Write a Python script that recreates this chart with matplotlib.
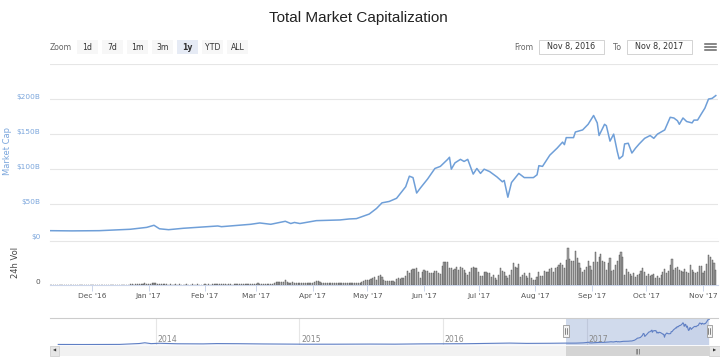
import datetime
import numpy as np
import matplotlib
matplotlib.use('Agg')
import matplotlib.pyplot as plt
import matplotlib.dates as mdates
from matplotlib.patches import Rectangle
from matplotlib.lines import Line2D
from matplotlib.transforms import ScaledTranslation

# total market cap, $B
cap_dates = [
    '2016-11-08', '2016-11-20', '2016-12-05', '2016-12-22', '2016-12-31', '2017-01-04',
    '2017-01-07', '2017-01-12', '2017-01-20', '2017-02-08', '2017-02-10', '2017-02-26',
    '2017-03-03', '2017-03-09', '2017-03-17', '2017-03-20', '2017-03-22', '2017-03-25',
    '2017-04-03', '2017-04-16', '2017-04-21', '2017-04-25', '2017-05-02', '2017-05-06',
    '2017-05-09', '2017-05-13', '2017-05-17', '2017-05-22', '2017-05-24', '2017-05-26',
    '2017-05-28', '2017-05-30', '2017-06-03', '2017-06-07', '2017-06-10', '2017-06-14',
    '2017-06-15', '2017-06-16', '2017-06-18', '2017-06-21', '2017-06-23', '2017-06-25',
    '2017-06-28', '2017-06-30', '2017-07-02', '2017-07-04', '2017-07-07', '2017-07-11',
    '2017-07-14', '2017-07-15', '2017-07-17', '2017-07-19', '2017-07-23', '2017-07-26',
    '2017-07-31', '2017-08-02', '2017-08-03', '2017-08-05', '2017-08-09', '2017-08-13',
    '2017-08-16', '2017-08-17', '2017-08-18', '2017-08-22', '2017-08-23', '2017-08-27',
    '2017-08-30', '2017-09-02', '2017-09-04', '2017-09-05', '2017-09-07', '2017-09-08',
    '2017-09-09', '2017-09-11', '2017-09-13', '2017-09-15', '2017-09-16', '2017-09-18',
    '2017-09-19', '2017-09-21', '2017-09-23', '2017-09-25', '2017-09-27', '2017-09-30',
    '2017-10-03', '2017-10-05', '2017-10-07', '2017-10-11', '2017-10-14', '2017-10-16',
    '2017-10-18', '2017-10-19', '2017-10-21', '2017-10-23', '2017-10-26', '2017-10-27',
    '2017-10-29', '2017-10-31', '2017-11-02', '2017-11-04', '2017-11-06', '2017-11-08',
]
cap_values = [
    12.3, 12.0, 12.3, 14.3, 17.0, 20.0,
    15.0, 13.7, 15.7, 19.0, 18.0, 21.4,
    23.3, 21.4, 25.7, 22.5, 24.0, 22.5,
    26.6, 27.6, 29.0, 29.5, 36.0, 44.0,
    52.0, 54.0, 58.5, 75.0, 90.0, 88.0,
    66.0, 73.0, 86.0, 101.0, 104.0, 114.0,
    117.0, 100.0, 109.0, 114.0, 111.0, 114.0,
    93.0, 101.0, 94.0, 100.0, 96.6, 89.0,
    82.0, 84.0, 60.0, 81.0, 94.0, 88.0,
    88.0, 92.0, 105.0, 104.0, 120.0, 130.0,
    138.6, 135.0, 145.0, 145.0, 153.0, 156.0,
    164.0, 176.6, 166.0, 148.0, 158.6, 164.0,
    162.0, 140.0, 150.0, 125.0, 114.7, 119.0,
    136.0, 137.0, 123.0, 130.0, 136.0, 144.0,
    148.0, 144.0, 150.0, 156.0, 174.0, 173.0,
    169.0, 164.0, 173.0, 168.0, 166.0, 170.0,
    170.0, 178.6, 187.0, 200.0, 201.0, 205.0,
]

# 24h volume, $B, one bar per day starting Nov 8 2016
vol_start = '2016-11-08'
vol_values = [
    # Nov 8 - Dec 20
    0.08, 0.07, 0.08, 0.09, 0.07, 0.08, 0.08, 0.07, 0.09, 0.08,
    0.08, 0.07, 0.08, 0.09, 0.08, 0.07, 0.08, 0.08, 0.09, 0.08,
    0.07, 0.08, 0.09, 0.08, 0.08, 0.07, 0.08, 0.09, 0.08, 0.08,
    0.07, 0.09, 0.08, 0.08, 0.07, 0.08, 0.09, 0.08, 0.08, 0.09,
    0.1, 0.09, 0.1,
    # Dec 21 - Jan 10
    0.1, 0.3, 0.13, 0.1, 0.13, 0.15, 0.13, 0.15, 0.2, 0.38,
    0.2, 0.18, 0.33, 0.4, 0.5, 0.45, 0.35, 0.25, 0.2, 0.18, 0.15,
    # Jan 11 - Feb 26
    0.13, 0.12, 0.14, 0.12, 0.11, 0.13, 0.12, 0.14, 0.12, 0.11,
    0.12, 0.13, 0.11, 0.12, 0.14, 0.12, 0.11, 0.13, 0.12, 0.12,
    0.11, 0.13, 0.12, 0.14, 0.12, 0.13, 0.15, 0.13, 0.14, 0.18,
    0.33, 0.16, 0.13, 0.12, 0.14, 0.13, 0.12, 0.13, 0.15, 0.14,
    0.13, 0.15, 0.14, 0.16, 0.18, 0.3, 0.2,
    # Feb 27 - Mar 10
    0.22, 0.25, 0.3, 0.38, 0.28, 0.3, 0.25, 0.27, 0.3, 0.32, 0.28, 0.35,
    # Mar 11 - Mar 21
    0.43, 0.68, 0.83, 0.68, 0.83, 0.68, 1.25, 0.83, 0.58, 0.58, 0.68,
    # Mar 22 - Apr 12
    0.5, 0.55, 0.45, 0.6, 0.5, 0.55, 0.48, 0.6, 0.52, 0.5, 0.62, 0.7,
    1.08, 1.0, 0.7, 0.6, 0.55, 0.5, 0.45, 0.5, 0.48, 0.52,
    # Apr 13 - Apr 27
    0.45, 0.4, 0.42, 0.38, 0.45, 0.4, 0.43, 0.38, 0.42, 0.45, 0.48, 0.42, 0.5, 0.55, 0.6,
    # Apr 28 - May 12
    0.83, 1.0, 1.18, 1.25, 1.25, 1.5, 1.68, 2.08, 1.25, 2.33, 2.5, 2.08, 1.25, 1.0, 1.0,
    # May 13 onwards
    1.0, 1.0, 1.0, 0.75, 1.5, 1.75, 1.5, 1.75, 1.75, 2.25,
    3.5, 3.0, 3.75, 4.0, 4.0, 4.25, 3.25, 1.75, 3.25, 3.75,
    3.5, 3.5, 3.0, 3.0, 3.0, 3.5, 3.5, 3.0, 2.75, 4.75,
    5.75, 5.75, 5.75, 4.25, 4.25, 3.75, 4.0, 4.5, 3.75, 4.5,
    4.25, 3.75, 3.0, 2.5, 3.25, 4.25, 4.5, 4.25, 4.25, 3.25,
    2.25, 2.25, 3.25, 3.25, 3.0, 3.0, 2.0, 2.5, 1.75, 1.25,
    2.5, 4.25, 3.5, 3.25, 2.25, 1.75, 2.5, 3.75, 5.5, 4.5,
    4.25, 5.25, 2.0, 2.5, 3.0, 2.25, 1.75, 3.0, 1.75, 1.25,
    1.25, 2.0, 3.25, 2.25, 2.25, 3.5, 3.25, 3.25, 4.0, 4.25,
    3.25, 4.25, 4.5, 5.0, 5.5, 5.0, 4.25, 6.25, 9.25, 6.5,
    6.0, 6.0, 8.5, 6.75, 5.5, 4.25, 3.25, 3.75, 4.5, 6.0,
    4.75, 3.75, 5.75, 8.25, 5.75, 7.0, 7.75, 6.0, 5.75, 3.75,
    5.5, 6.75, 3.5, 3.75, 5.0, 6.0, 7.5, 8.25, 7.0, 2.5,
    4.0, 3.25, 2.75, 2.25, 3.0, 2.0, 2.5, 2.75, 3.5, 4.25,
    3.25, 2.25, 2.75, 2.25, 2.5, 2.75, 1.75, 2.25, 1.75, 2.5,
    3.25, 4.0, 3.0, 3.5, 5.0, 6.5, 3.75, 4.25, 4.5, 3.75,
    3.5, 3.25, 4.0, 3.25, 3.0, 5.0, 3.75, 3.25, 3.0, 3.25,
    4.75, 4.75, 3.0, 3.5, 5.25, 7.5, 7.0, 6.25, 5.5, 3.75,
]

# navigator: market cap history before the zoomed year, $B
hist_dates = [
    '2013-04-28', '2013-07-01', '2013-10-01', '2013-11-20', '2013-12-04', '2013-12-20',
    '2014-01-10', '2014-02-25', '2014-05-01', '2014-06-05', '2014-08-01', '2014-10-01',
    '2015-01-15', '2015-04-01', '2015-07-01', '2015-09-01', '2015-11-05', '2016-01-01',
    '2016-03-01', '2016-06-18', '2016-08-01', '2016-10-01',
]
hist_values = [
    1.5, 1.0, 1.8, 9.0, 15.0, 8.0,
    11.0, 7.0, 6.0, 8.5, 7.5, 5.5,
    3.5, 3.5, 4.5, 3.8, 6.0, 6.8,
    7.5, 12.5, 10.0, 11.0,
]

y_ticks = [0, 50, 100, 150, 200, 250]
y_labels = ['$0', '$50B', '$100B', '$150B', '$200B', '']
zoom_buttons = ['1d', '7d', '1m', '3m', '1y', 'YTD', 'ALL']
selected_button = '1y'
range_from = 'Nov 8, 2016'
range_to = 'Nov 8, 2017'
nav_years = [2014, 2015, 2016, 2017]
nav_span = ('2013-04-07', '2017-11-30')

BLUE = '#6f9fd8'
LABEL_BLUE = '#7ba6dc'
GRID = '#e6e6e6'

plt.rcParams['font.family'] = ['DejaVu Sans']

W, H = 720, 357
fig = plt.figure(figsize=(W / 100, H / 100), dpi=100)


def px_box(left, top, right, bottom):
    # pixel box (from top-left) -> figure fractions
    return [left / W, 1 - bottom / H, (right - left) / W, (bottom - top) / H]


def px_rect(left, top, right, bottom, **kw):
    r = Rectangle((left / W, 1 - bottom / H), (right - left) / W, (bottom - top) / H,
                  transform=fig.transFigure, **kw)
    fig.add_artist(r)


def px_text(x, y, s, **kw):
    fig.text(x / W, 1 - y / H, s, **kw)


def to_num(dates):
    return mdates.date2num([datetime.date.fromisoformat(d) for d in dates])


cap_x = to_num(cap_dates)
d0 = to_num([vol_start])[0]
x_range = (d0, d0 + 366.2)

# --- header ---
px_text(358, 18, 'Total Market Capitalization', ha='center', va='center',
        fontsize=11, color='#222222', family='Liberation Sans')

px_text(50, 47, 'Zoom', ha='left', va='center', fontsize=5.6, color='#666666')
for i, lab in enumerate(zoom_buttons):
    left = 77 + 25 * i
    sel = lab == selected_button
    px_rect(left, 40, left + 21, 54, facecolor='#e6ebf5' if sel else '#f7f7f7', edgecolor='none')
    px_text(left + 10.5, 47, lab, ha='center', va='center', fontsize=5.6, color='#333333',
            fontweight='bold' if sel else 'normal')

px_text(524, 47, 'From', ha='center', va='center', fontsize=5.6, color='#666666')
px_rect(539, 40, 604, 54, facecolor='white', edgecolor='#cccccc', linewidth=0.6)
px_text(571.5, 47, range_from, ha='center', va='center', fontsize=5.8, color='#333333')
px_text(617, 47, 'To', ha='center', va='center', fontsize=5.6, color='#666666')
px_rect(627, 40, 692, 54, facecolor='white', edgecolor='#cccccc', linewidth=0.6)
px_text(659.5, 47, range_to, ha='center', va='center', fontsize=5.8, color='#333333')
for yy in (43.5, 46.8, 50.1):
    fig.add_artist(Line2D([705 / W, 716 / W], [1 - yy / H, 1 - yy / H], color='#666666',
                          linewidth=1.1, transform=fig.transFigure))

# --- market cap panel ---
ax = fig.add_axes(px_box(50, 64, 718, 239.3))
ax.plot(cap_x, cap_values, color=BLUE, linewidth=1.1)
ax.set_xlim(x_range)
ax.set_ylim(0, 250)
ax.set_yticks(y_ticks, y_labels)
ax.grid(axis='y', color=GRID, linewidth=0.8)
ax.set_axisbelow(True)
for s in ax.spines.values():
    s.set_visible(False)
ax.tick_params(axis='x', bottom=False, labelbottom=False)
ax.tick_params(axis='y', length=0, pad=7, labelsize=5.3, labelcolor=LABEL_BLUE)
up3 = ScaledTranslation(0, 3 / 100, fig.dpi_scale_trans)
for lab in ax.get_yticklabels():
    lab.set_transform(lab.get_transform() + up3)
px_text(8, 151, 'Market Cap', rotation=90, ha='center', va='center', fontsize=6, color=LABEL_BLUE)

# --- volume panel ---
axv = fig.add_axes(px_box(50, 240.5, 718, 285))
vol_x = d0 + np.arange(len(vol_values))
axv.bar(vol_x, vol_values, width=0.62, color='#a3a3a3', edgecolor='#4d4d4d', linewidth=0.3)
axv.set_xlim(x_range)
axv.set_ylim(0, 11.1)
axv.set_yticks([0], ['0'])
axv.xaxis.set_major_locator(mdates.MonthLocator())
axv.xaxis.set_major_formatter(mdates.DateFormatter("%b '%y"))
axv.tick_params(axis='x', length=4.5, width=0.7, color='#ccd6eb', pad=1,
                labelsize=5.4, labelcolor='#555555')
axv.tick_params(axis='y', length=0, pad=7, labelsize=5.3, labelcolor='#555555')
up4 = ScaledTranslation(0, 4 / 100, fig.dpi_scale_trans)
for lab in axv.get_yticklabels():
    lab.set_transform(lab.get_transform() + up4)
axv.spines['left'].set_visible(False)
axv.spines['right'].set_visible(False)
axv.spines['top'].set_color(GRID)
axv.spines['top'].set_linewidth(0.8)
axv.spines['bottom'].set_color('#ccd6eb')
axv.spines['bottom'].set_linewidth(0.8)
px_text(16, 262, '24h Vol', rotation=90, ha='center', va='center', fontsize=6, color='#444444')

# --- navigator ---
nav_x = np.concatenate([to_num(hist_dates), cap_x])
nav_vals = hist_values + cap_values
span = to_num(list(nav_span))
sel = (cap_x[0], cap_x[-1])

axn = fig.add_axes(px_box(50, 318, 718, 345))
axn.fill_between(nav_x, nav_vals, -3, color=(51 / 255, 92 / 255, 173 / 255, 0.06), linewidth=0)
axn.plot(nav_x, nav_vals, color='#5f7fc4', linewidth=0.8)
axn.set_xlim(span)
axn.set_ylim(-3, 215)
year_x = to_num(['%d-01-01' % y for y in nav_years])
axn.set_xticks(year_x)
axn.set_yticks([])
axn.tick_params(axis='x', length=0, labelbottom=False)
axn.grid(axis='x', color=GRID, linewidth=0.8)
axn.set_axisbelow(True)
for y, xx in zip(nav_years, year_x):
    axn.text(xx + 4, 0.2, str(y), transform=axn.get_xaxis_transform(), ha='left', va='center',
             fontsize=5.6, color='#888888')
for k in ('left', 'right', 'bottom'):
    axn.spines[k].set_visible(False)
axn.spines['top'].set_color('#cccccc')
axn.spines['top'].set_linewidth(0.8)
axn.axvspan(sel[0], sel[1], color=(102 / 255, 133 / 255, 194 / 255, 0.3), linewidth=0)
for hx in sel:
    axn.add_patch(Rectangle((hx - 7, 0.3), 14, 0.45, transform=axn.get_xaxis_transform(),
                            facecolor='#f2f2f2', edgecolor='#999999', linewidth=0.6,
                            clip_on=False, zorder=5))
    for dx in (-2.5, 2.5):
        axn.plot([hx + dx, hx + dx], [0.42, 0.63], transform=axn.get_xaxis_transform(),
                 color='#333333', linewidth=0.4, clip_on=False, zorder=6)

# --- scrollbar ---
axs = fig.add_axes(px_box(50, 345.5, 718, 356))
axs.set_facecolor('#f2f2f2')
axs.set_xlim(span)
axs.set_ylim(0, 1)
axs.axvspan(sel[0], sel[1], color='#d4d4d4', linewidth=0)
axs.text((sel[0] + sel[1]) / 2, 0.5, '|||', ha='center', va='center', fontsize=3.5, color='#333333')
axs.set_xticks([])
axs.set_yticks([])
for s in axs.spines.values():
    s.set_visible(False)
px_rect(50, 345.5, 59, 356, facecolor='#e6e6e6', edgecolor='#cccccc', linewidth=0.5)
px_text(54.5, 350.8, '\u25C0', ha='center', va='center', fontsize=3, color='#333333')
px_rect(709, 345.5, 720, 356, facecolor='#e6e6e6', edgecolor='#cccccc', linewidth=0.5)
px_text(714.5, 350.8, '\u25B6', ha='center', va='center', fontsize=3, color='#333333')

fig.savefig('out.png', dpi=100)
